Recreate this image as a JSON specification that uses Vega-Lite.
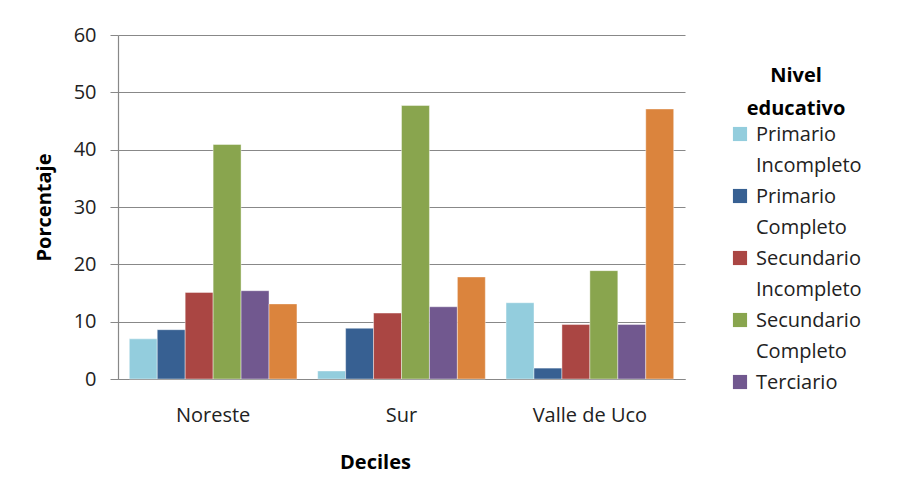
{
  "$schema": "https://vega.github.io/schema/vega-lite/v6.json",
  "autosize": {"type": "none"},
  "width": 567,
  "height": 344,
  "padding": {"left": 118, "top": 35, "right": 226, "bottom": 98},
  "background": "white",
  "data": {
    "values": [
      {"region": "Noreste", "nivel": "Primario Incompleto", "pct": 7.0},
      {"region": "Noreste", "nivel": "Primario Completo", "pct": 8.6},
      {"region": "Noreste", "nivel": "Secundario Incompleto", "pct": 15.1},
      {"region": "Noreste", "nivel": "Secundario Completo", "pct": 40.9},
      {"region": "Noreste", "nivel": "Terciario", "pct": 15.4},
      {"region": "Noreste", "nivel": "Universitario", "pct": 13.1},
      {"region": "Sur", "nivel": "Primario Incompleto", "pct": 1.4},
      {"region": "Sur", "nivel": "Primario Completo", "pct": 8.85},
      {"region": "Sur", "nivel": "Secundario Incompleto", "pct": 11.5},
      {"region": "Sur", "nivel": "Secundario Completo", "pct": 47.7},
      {"region": "Sur", "nivel": "Terciario", "pct": 12.6},
      {"region": "Sur", "nivel": "Universitario", "pct": 17.8},
      {"region": "Valle de Uco", "nivel": "Primario Incompleto", "pct": 13.3},
      {"region": "Valle de Uco", "nivel": "Primario Completo", "pct": 1.9},
      {"region": "Valle de Uco", "nivel": "Secundario Incompleto", "pct": 9.5},
      {"region": "Valle de Uco", "nivel": "Secundario Completo", "pct": 18.9},
      {"region": "Valle de Uco", "nivel": "Terciario", "pct": 9.5},
      {"region": "Valle de Uco", "nivel": "Universitario", "pct": 47.1}
    ]
  },
  "mark": {"type": "bar", "stroke": "white", "strokeWidth": 0.6, "strokeOpacity": 0.7},
  "encoding": {
    "x": {
      "field": "region",
      "type": "nominal",
      "sort": null,
      "scale": {"paddingInner": 0.11, "paddingOuter": 0.06},
      "axis": {
        "title": "Deciles",
        "labelAngle": 0,
        "ticks": false,
        "labelPadding": 35,
        "titlePadding": 27,
        "titleX": 257
      }
    },
    "xOffset": {
      "field": "nivel",
      "type": "nominal",
      "sort": ["Primario Incompleto", "Primario Completo", "Secundario Incompleto", "Secundario Completo", "Terciario", "Universitario"],
      "scale": {"paddingInner": 0, "paddingOuter": 0}
    },
    "y": {
      "field": "pct",
      "type": "quantitative",
      "scale": {"domain": [0, 60]},
      "axis": {
        "title": "Porcentaje",
        "values": [0, 10, 20, 30, 40, 50, 60],
        "tickSize": 8,
        "labelPadding": 14,
        "labelOffset": 9,
        "titlePadding": 19
      }
    },
    "color": {
      "field": "nivel",
      "type": "nominal",
      "sort": ["Primario Incompleto", "Primario Completo", "Secundario Incompleto", "Secundario Completo", "Terciario", "Universitario"],
      "scale": {
        "domain": ["Primario Incompleto", "Primario Completo", "Secundario Incompleto", "Secundario Completo", "Terciario", "Universitario"],
        "range": ["#93CDDD", "#376092", "#AA4643", "#89A54E", "#71588F", "#DB843D"]
      },
      "legend": {
        "title": ["Nivel", "educativo"],
        "values": ["Primario Incompleto", "Primario Completo", "Secundario Incompleto", "Secundario Completo", "Terciario"],
        "orient": "none",
        "legendX": 612,
        "legendY": 31,
        "titleAnchor": "middle",
        "titleFontSize": 20,
        "titleFontWeight": "bold",
        "titleLineHeight": 33,
        "titleColor": "black",
        "titlePadding": 5,
        "symbolType": "square",
        "symbolSize": 200,
        "symbolStrokeWidth": 0,
        "labelFontSize": 20,
        "labelColor": "#222",
        "labelLimit": 200,
        "labelOffset": 6,
        "labelBaseline": "top",
        "labelExpr": "split(datum.label, ' ')",
        "rowPadding": 10,
        "symbolOffset": 0
      }
    }
  },
  "config": {
    "font": "Open Sans",
    "view": {"stroke": null},
    "style": {"guide-label": {"lineHeight": 31, "dy": -9}},
    "axis": {
      "labelFont": "Open Sans",
      "titleFont": "Open Sans",
      "labelFontSize": 20,
      "titleFontSize": 20,
      "titleFontWeight": "bold",
      "labelColor": "#222",
      "titleColor": "black",
      "domainColor": "#888",
      "tickColor": "#888",
      "gridColor": "#888",
      "gridWidth": 1.2,
      "domainWidth": 1.2
    },
    "axisX": {"grid": false},
    "axisY": {"grid": true, "domain": true},
    "legend": {"labelFont": "Open Sans", "titleFont": "Open Sans"}
  }
}
